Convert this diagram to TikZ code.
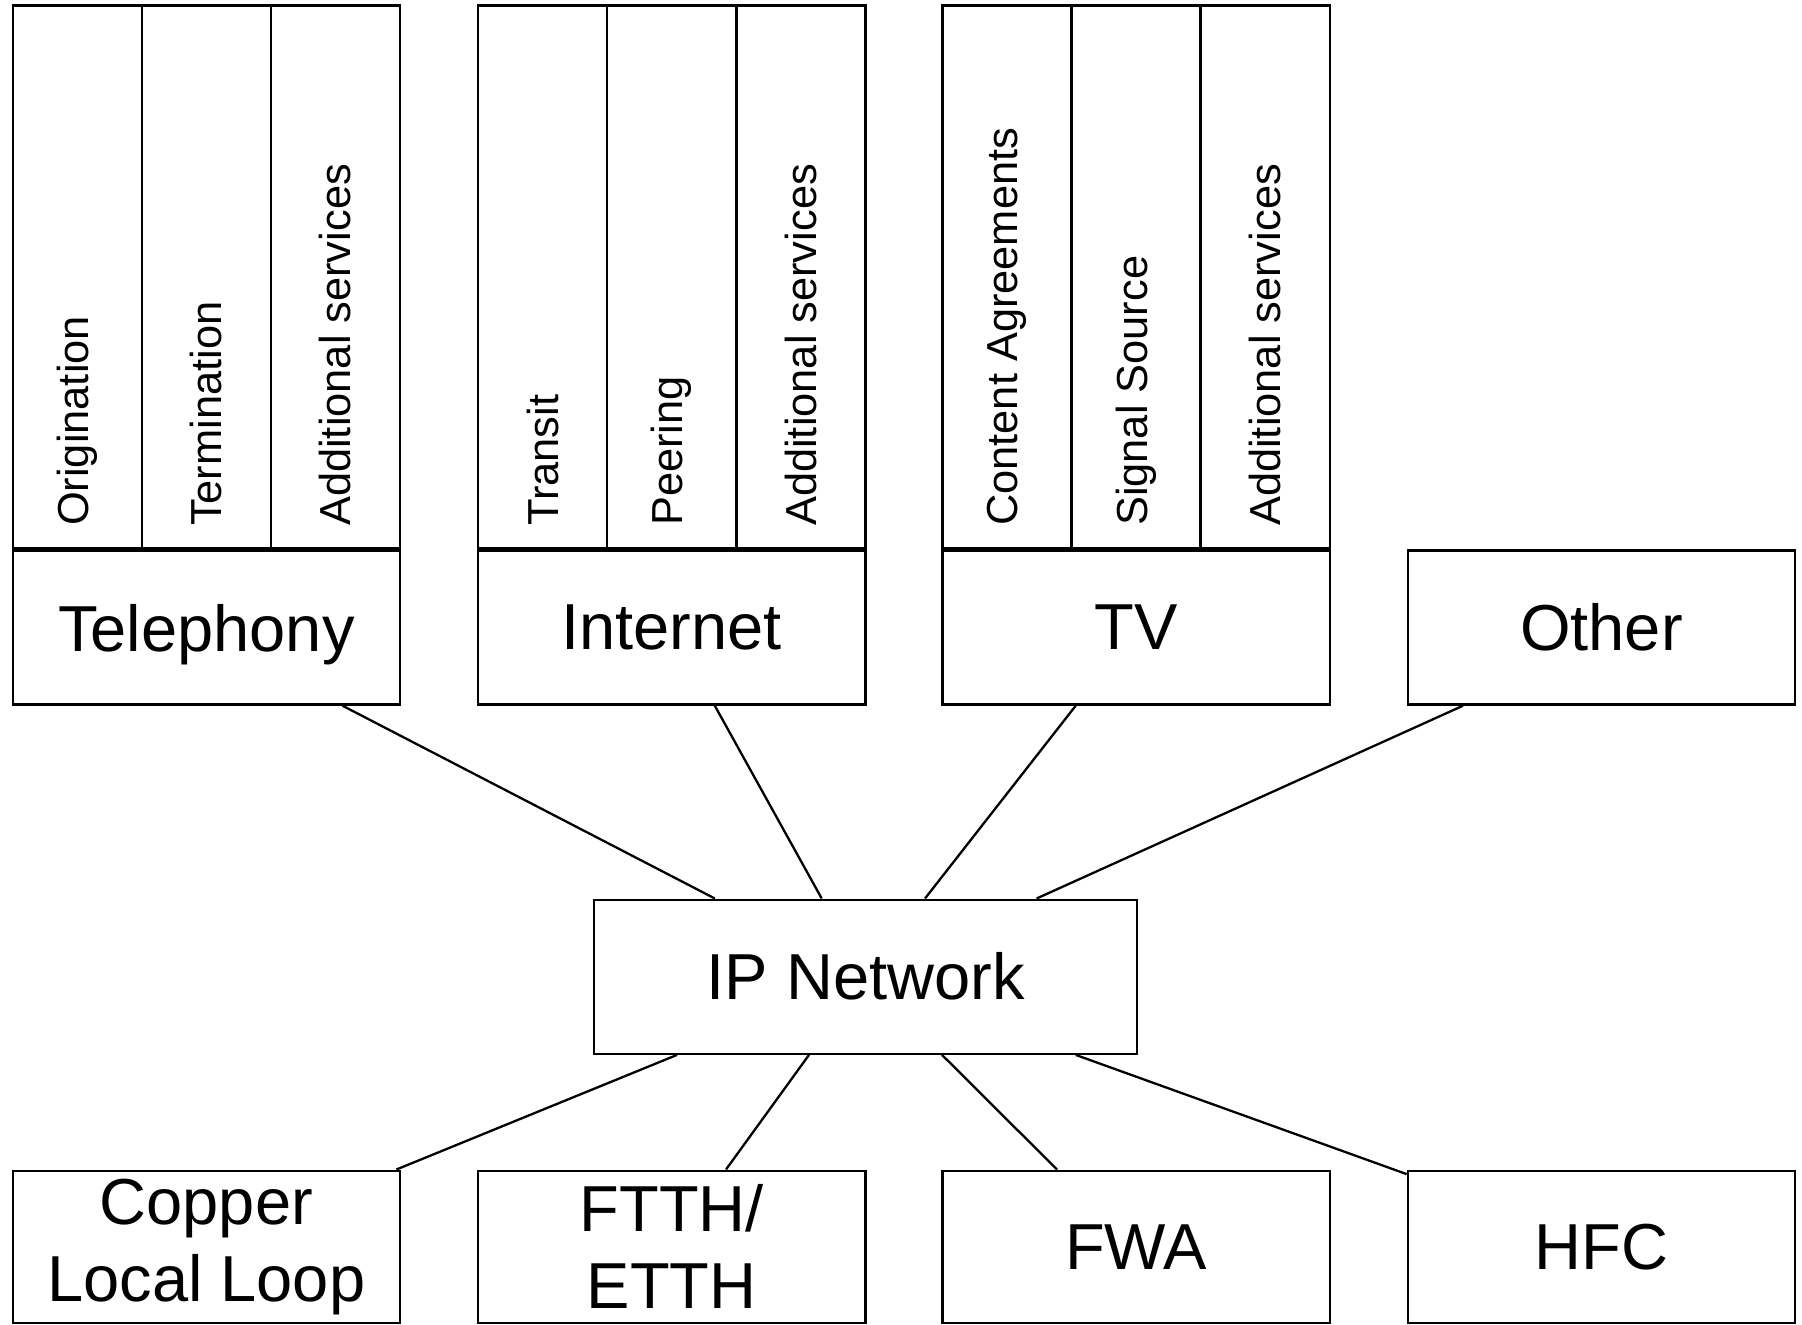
\documentclass[tikz,border=0pt]{standalone}
\usepackage{fontspec}
\setmainfont{Liberation Sans}
\usepackage{tikz}
\newcommand{\colwd}{64.55pt}
\newcommand{\colht}{271.2pt}
\newcommand{\boxwd}{193.65pt}
\newcommand{\boxht}{77pt}

\begin{document}
\begin{tikzpicture}[x=1pt,y=1pt,
    box/.style={draw, line width=1.2pt, rectangle, inner sep=0pt, minimum width=\boxwd,
      minimum height=\boxht, align=center, font=\fontsize{32.5}{38.5}\selectfont},
    col/.style={draw, line width=1.2pt, rectangle, inner sep=0pt, minimum width=\colwd,
      minimum height=\colht},
    sub/.style={rotate=90, anchor=west, inner sep=0pt, font=\fontsize{21.7}{26}\selectfont},
    link/.style={line width=1.15pt}]
      \useasboundingbox (0,0) rectangle (901,662);
          %%  services with their parts  %%
      \foreach \n/\x/\t/\a/\b/\c in {tel/5.75/Telephony/Origination/Termination/Additional services,
                                     inet/238.45/Internet/Transit/Peering/Additional services,
                                     tv/470.6/TV/Content Agreements/Signal Source/Additional services}
      { \node (\n) at (\x,387.35) [box, anchor=north west, text depth=0pt] {\t};
        \foreach \k/\s in {1/\a,2/\b,3/\c}
        { \node (\n-\k) at (\x+\k*64.55-64.55,387.35) [col, anchor=south west] {};
          \node (\n-\k-txt) at ([yshift=11.5pt]\n-\k.south) [sub] {\s};}
      }
      \node (other) at (703.3,387.35) [box, anchor=north west] {Other};

      \node (ip) at (296.5,212.75) [box, anchor=north west, minimum width=271.5pt] {IP Network};

          %%  access networks  %%
      \node (cll) at (5.75,77.25) [box, anchor=north west, minimum height=76pt] {Copper\\Local Loop};
      \node (ftth) at (238.45,77.25) [box, anchor=north west, minimum height=76pt] {FTTH/\\ETTH};
      \node (fwa) at (470.6,77.25) [box, anchor=north west, minimum height=76pt] {FWA};
      \node (hfc) at (703.3,77.25) [box, anchor=north west, minimum height=76pt] {HFC};

      \draw[link] ([xshift=165.5pt]tel.south west) to ([xshift=60.9pt]ip.north west);
      \draw[link] ([xshift=118.95pt]inet.south west) to ([xshift=114.35pt]ip.north west);
      \draw[link] ([xshift=67.25pt]tv.south west) to ([xshift=166pt]ip.north west);
      \draw[link] ([xshift=28.2pt]other.south west) to ([xshift=221.8pt]ip.north west);

      \draw[link] ([xshift=42pt]ip.south west) to ([xshift=-2.4pt]cll.north east);
      \draw[link] ([xshift=108pt]ip.south west) to ([xshift=124.55pt]ftth.north west);
      \draw[link] ([xshift=174.5pt]ip.south west) to ([xshift=57.9pt]fwa.north west);
      \draw[link] ([xshift=241.35pt]ip.south west) to ([yshift=-2.3pt]hfc.north west);
\end{tikzpicture}
\end{document}
